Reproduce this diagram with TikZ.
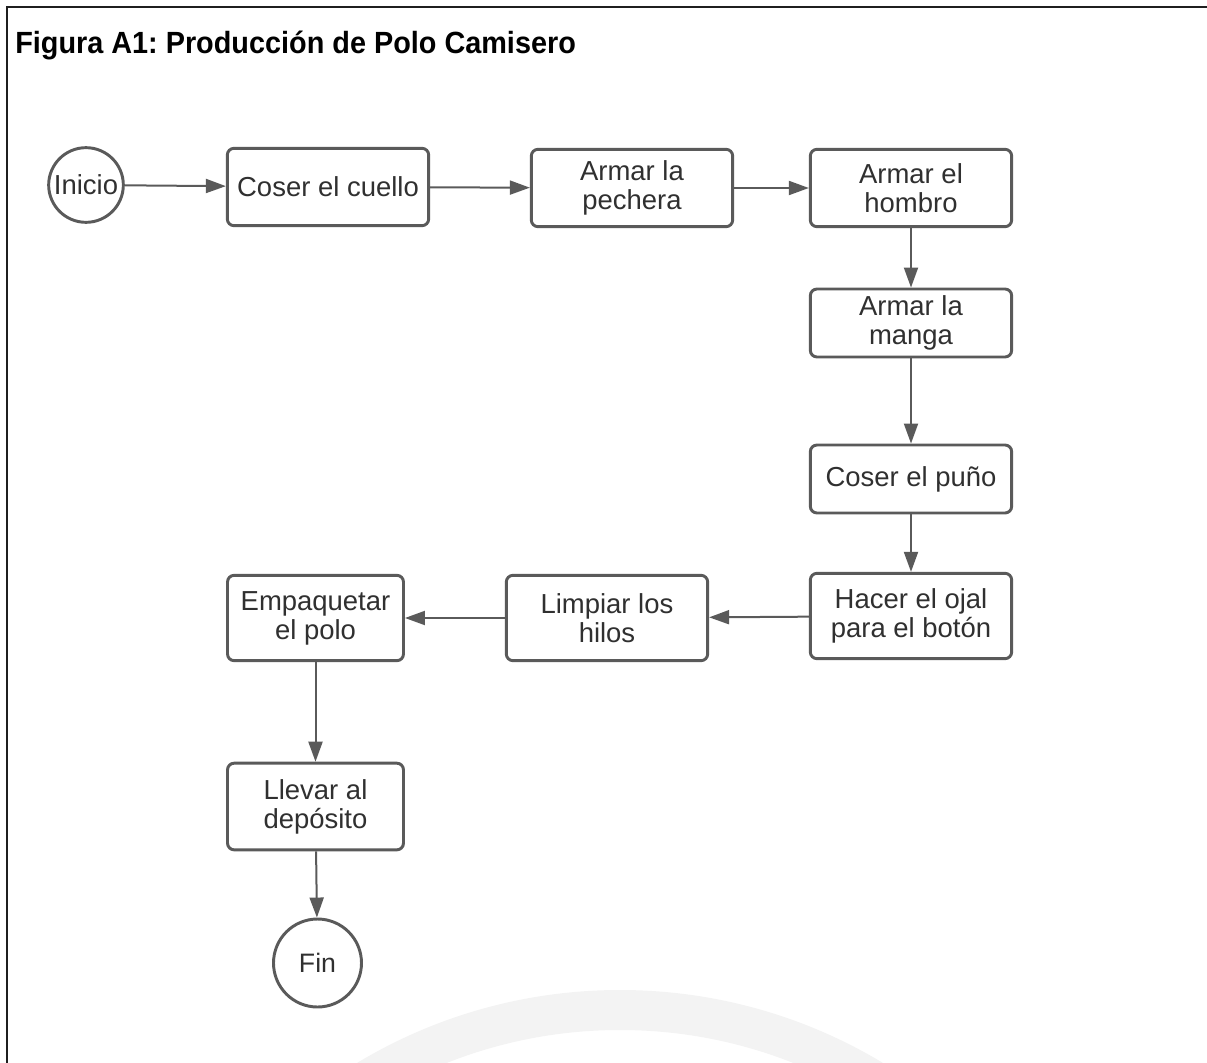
\documentclass[tikz,border=0pt]{standalone}
\usepackage{fontspec}
\setmainfont{Liberation Sans}
\newfontfamily\titlefont[FakeStretch=0.94]{Liberation Sans}
\usetikzlibrary{arrows.meta,shapes.geometric}
\definecolor{boxgray}{HTML}{5A5A5A}
\definecolor{txtgray}{HTML}{303030}
\definecolor{wmgray}{HTML}{F3F3F3}
\tikzset{
  stepbox/.style={draw=boxgray, line width=2.2pt, rounded corners=5pt, fill=white,
    inner sep=0pt, align=center, text=txtgray,
    font=\fontsize{20.6}{21.8}\selectfont},
  endnode/.style={draw=boxgray, line width=2.2pt, circle, fill=white, inner sep=0pt,
    text=txtgray},
  flow/.style={draw=boxgray, line width=1.5pt, -{Triangle[length=15pt,width=10.5pt]}},
}
\begin{document}
\frenchspacing
\begin{tikzpicture}[x=0.75pt,y=-0.75pt]
\useasboundingbox (0,0) rectangle (1207,1063);
% faint watermark arc
\begin{scope}
\clip (0,0) rectangle (1207,1063);
\fill[wmgray, even odd rule] (620,1500) circle (510) (620,1500) circle (470);
\end{scope}
% frame
\draw[line width=1.9pt, black!88] (7,1063) -- (7,7) -- (1207,7);
% title
\node[anchor=base west, inner sep=0pt, font=\titlefont\fontsize{23}{26}\selectfont\bfseries] (title) at (15,54) {Figura A1: Producción de Polo Camisero};
% nodes
\node[endnode, minimum size=56pt, font=\fontsize{20.6}{22}\selectfont] (inicio) at (86,185) {Inicio};
\node[stepbox, minimum width=151pt, minimum height=58pt] (cuello) at (328,187) {Coser el cuello};
\node[stepbox, minimum width=151pt, minimum height=58pt] (pechera) at (632,188) {Armar la\\pechera};
\node[stepbox, minimum width=151pt, minimum height=58pt] (hombro) at (911,188) {Armar el\\hombro};
\node[stepbox, minimum width=151pt, minimum height=51pt] (manga) at (911,323) {Armar la\\manga};
\node[stepbox, minimum width=151pt, minimum height=51pt] (puno) at (911,479) {Coser el puño};
\node[stepbox, minimum width=151pt, minimum height=64pt] (ojal) at (911,616) {Hacer el ojal\\para el botón};
\node[stepbox, minimum width=151pt, minimum height=64pt] (limpiar) at (607,618) {Limpiar los\\hilos};
\node[stepbox, minimum width=132pt, minimum height=64pt] (empaquetar) at (315.5,618) {Empaquetar\\el polo};
\node[stepbox, minimum width=132pt, minimum height=65pt] (llevar) at (315.5,806.5) {Llevar al\\depósito};
\node[endnode, minimum size=66pt, font=\fontsize{20}{22}\selectfont] (fin) at (317.5,963) {Fin};
% connectors
\draw[flow] (inicio) -- (cuello);
\draw[flow] (cuello) -- (pechera);
\draw[flow] (pechera) -- (hombro);
\draw[flow] (hombro) -- (manga);
\draw[flow] (manga) -- (puno);
\draw[flow] (puno) -- (ojal);
\draw[flow] (ojal) -- (limpiar);
\draw[flow] (limpiar) -- (empaquetar);
\draw[flow] (empaquetar) -- (llevar);
\draw[flow] (llevar) -- (fin);
\end{tikzpicture}
\end{document}
